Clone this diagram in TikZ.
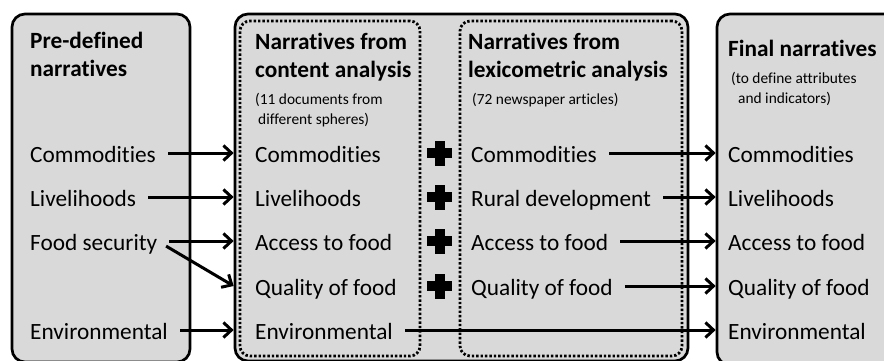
\documentclass[tikz,border=0pt]{standalone}
\usepackage{fontspec}
\setmainfont{Carlito}[Ligatures=NoCommon]
\usetikzlibrary{arrows.meta}
\definecolor{boxgray}{RGB}{217,217,217}
\tikzstyle{panel} = [rectangle, rounded corners=13pt, draw=black, line width=2.7pt, fill=boxgray]
\tikzstyle{dotbox} = [rectangle, rounded corners=10pt, draw=black, line width=2.8pt, dash pattern=on 2.4pt off 2pt]
\tikzstyle{item} = [anchor=base west, inner sep=0pt, text height=18pt, text depth=0pt, font=\fontsize{23.3}{28}\selectfont]
\tikzstyle{head} = [anchor=base west, inner sep=0pt, align=left, font=\bfseries\fontsize{23.3}{28}\selectfont]
\tikzstyle{note} = [anchor=base west, inner sep=0pt, align=left, font=\fontsize{15.4}{20}\selectfont]
\tikzstyle{arrow} = [line width=3pt, -{Straight Barb[length=8pt,width=15pt,line width=3pt]}, shorten <=12pt]

\begin{document}
\begin{tikzpicture}[x=1pt, y=-1pt]
    \useasboundingbox (0,0) rectangle (884,360);
    \clip (0,0) rectangle (884,360);

    % panels
    \node (pre) [panel, minimum width=178pt, minimum height=348pt] at (101,188) {};
    \node (big) [panel, minimum width=453pt, minimum height=347pt] at (461.5,187.5) {};
    \node (cont) [dotbox, minimum width=180pt, minimum height=335pt] at (330,188.5) {};
    \node (lex) [dotbox, minimum width=222pt, minimum height=335pt] at (571,188.5) {};
    \node (fin) [panel, minimum width=188pt, minimum height=351pt] at (811,189.5) {};

    % headings (base = last line)
    \node (preT) [head] at (30,76) {Pre-defined\\narratives};
    \node (contT) [head] at (255,77) {Narratives from\\content analysis};
    \node (contN) [note] at (255,124) {(11 documents from\\\hspace*{3pt}different spheres)};
    \node (lexT) [head] at (468,77) {Narratives from\\lexicometric analysis};
    \node (lexN) [note] at (472,104) {(72 newspaper articles)};
    \node (finT) [head] at (728,56) {Final narratives};
    \node (finN) [note] at (731,103) {(to define attributes\\\hspace*{7pt}and indicators)};

    % pre-defined narratives
    \node (p1) [item] at (30,162) {Commodities};
    \node (p2) [item] at (30,206) {Livelihoods};
    \node (p3) [item] at (30,250) {Food security};
    \node (p5) [item] at (30,339) {Environmental};

    % content analysis
    \node (c1) [item] at (255,162) {Commodities};
    \node (c2) [item] at (255,206) {Livelihoods};
    \node (c3) [item] at (255,250) {Access to food};
    \node (c4) [item] at (255,295) {Quality of food};
    \node (c5) [item] at (255,339) {Environmental};

    % lexicometric analysis
    \node (l1) [item] at (471,162) {Commodities};
    \node (l2) [item] at (471,206) {Rural development};
    \node (l3) [item] at (471,250) {Access to food};
    \node (l4) [item] at (471,295) {Quality of food};

    % final narratives
    \node (f1) [item] at (728,162) {Commodities};
    \node (f2) [item] at (728,206) {Livelihoods};
    \node (f3) [item] at (728,250) {Access to food};
    \node (f4) [item] at (728,295) {Quality of food};
    \node (f5) [item] at (728,339) {Environmental};

    % plus signs
    \foreach \y in {153,197,241,286} {
        \fill (427,\y-5) rectangle (452,\y+5);
        \fill (434.5,\y-12.5) rectangle (444.5,\y+12.5);
    }

    \draw[arrow] (p1.east) -- (p1.east -| big.west);
    \draw[arrow] (p2.east) -- (p2.east -| big.west);
    \draw[arrow] (p3.east) -- (p3.east -| big.west);
    \draw[arrow, shorten <=10pt] (p3.east) -- (c4.west -| big.west);
    \draw[arrow] (p5.east) -- (p5.east -| big.west);

    \draw[arrow] (l1.east) -- (l1.east -| fin.west);
    \draw[arrow] (l2.east) -- (l2.east -| fin.west);
    \draw[arrow] (l3.east) -- (l3.east -| fin.west);
    \draw[arrow] (l4.east) -- (l4.east -| fin.west);
    \draw[arrow] (c5.east) -- (c5.east -| fin.west);
  \end{tikzpicture}
\end{document}
